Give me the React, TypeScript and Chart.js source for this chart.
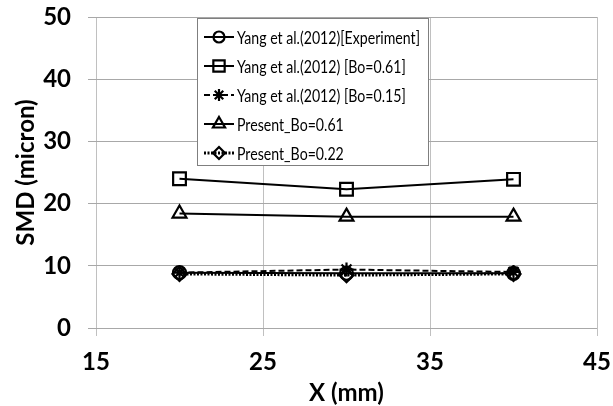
import React, { useEffect, useRef } from "react";
import { Chart, registerables } from "chart.js";
import { drawPoint } from "chart.js/helpers";

Chart.register(...registerables);

const xValues = [20, 30, 40];
const yangExperiment = [8.9, 8.8, 8.8];
const yangBo061 = [24.0, 22.3, 23.9];
const yangBo015 = [8.9, 9.4, 9.0];
const presentBo061 = [18.4, 17.9, 17.9];
const presentBo022 = [8.7, 8.5, 8.7];

const seriesLabels = [
  "Yang et al.(2012)[Experiment]",
  "Yang et al.(2012) [Bo=0.61]",
  "Yang et al.(2012) [Bo=0.15]",
  "Present_Bo=0.61",
  "Present_Bo=0.22",
];

const FONT = "Lato, 'Open Sans', 'DejaVu Sans', sans-serif";

const toPoints = (ys: number[]) => xValues.map((x, i) => ({ x, y: ys[i] }));

const legendPlugin = {
  id: "boxLegend",
  afterDraw(chart: any) {
    const ctx = chart.ctx;
    const bx = 197.5, by = 18.5, bw = 231, bh = 147;
    ctx.save();
    ctx.fillStyle = "#ffffff";
    ctx.fillRect(bx, by, bw, bh);
    ctx.strokeStyle = "#7f7f7f";
    ctx.lineWidth = 1;
    ctx.strokeRect(bx, by, bw, bh);
    ctx.font = `18px ${FONT}`;
    const widest = Math.max(...chart.data.datasets.map((d: any) => ctx.measureText(d.label).width));
    const squeeze = Math.min(1, 183 / widest);
    chart.data.datasets.forEach((ds: any, i: number) => {
      const cy = 37 + i * 29;
      ctx.save();
      ctx.strokeStyle = "#000";
      ctx.lineWidth = ds.borderWidth;
      ctx.setLineDash(ds.borderDash || []);
      ctx.beginPath();
      ctx.moveTo(204, cy);
      ctx.lineTo(234, cy);
      ctx.stroke();
      ctx.setLineDash([]);
      ctx.fillStyle = ds.pointBackgroundColor;
      ctx.strokeStyle = "#000";
      ctx.lineWidth = ds.pointBorderWidth;
      drawPoint(ctx, { pointStyle: ds.pointStyle, radius: ds.legendRadius, borderWidth: ds.pointBorderWidth, rotation: 0 }, 219, cy);
      ctx.restore();
      ctx.save();
      ctx.fillStyle = "#000";
      ctx.font = `18px ${FONT}`;
      ctx.textBaseline = "middle";
      ctx.textAlign = "left";
      ctx.translate(237, cy + 1);
      ctx.scale(squeeze, 1);
      ctx.fillText(ds.label, 0, 0);
      ctx.restore();
    });
    ctx.restore();
  },
};

export default function App() {
  const ref = useRef<HTMLCanvasElement | null>(null);
  useEffect(() => {
    document.body.style.margin = "0";
    const base = {
      borderColor: "#000",
      pointBorderColor: "#000",
      pointBackgroundColor: "rgba(0,0,0,0)",
      pointBorderWidth: 2.2,
      borderWidth: 2,
      tension: 0,
      fill: false,
    };
    const chart = new Chart(ref.current as HTMLCanvasElement, {
      type: "line",
      data: {
        datasets: [
          { ...base, label: seriesLabels[0], data: toPoints(yangExperiment), pointStyle: "circle", pointRadius: 6.5, legendRadius: 5.5 },
          { ...base, label: seriesLabels[1], data: toPoints(yangBo061), pointStyle: "rect", pointRadius: 9, legendRadius: 8 },
          { ...base, label: seriesLabels[2], data: toPoints(yangBo015), pointStyle: "star", pointRadius: 7, legendRadius: 6, borderDash: [6, 3] },
          { ...base, label: seriesLabels[3], data: toPoints(presentBo061), pointStyle: "triangle", pointRadius: 8, legendRadius: 7 },
          { ...base, label: seriesLabels[4], data: toPoints(presentBo022), pointStyle: "rectRot", pointRadius: 7, legendRadius: 6, borderWidth: 3, borderDash: [2, 1.5] },
        ] as any,
      },
      options: {
        animation: false,
        responsive: false,
        layout: { padding: { top: 17, right: 16, bottom: 0, left: 0 } },
        plugins: { legend: { display: false }, tooltip: { enabled: false } },
        scales: {
          x: {
            type: "linear",
            min: 15,
            max: 45,
            ticks: { stepSize: 10, color: "#000", padding: 12, font: { family: FONT, size: 24, weight: "bold" } },
            grid: { color: "#c0c0c0", tickLength: 8, tickColor: "#c0c0c0" },
            border: { display: false },
            title: { display: true, text: "X (mm)", color: "#000", padding: { top: 0, bottom: -2 }, font: { family: FONT, size: 24, weight: "bold" } },
            afterFit: (s: any) => { s.height = 78; s.paddingLeft = 0; s.paddingRight = 0; },
          },
          y: {
            type: "linear",
            min: 0,
            max: 50,
            ticks: { stepSize: 10, color: "#000", padding: 17, font: { family: FONT, size: 24, weight: "bold" } },
            grid: { color: "#a8a8a8", tickLength: 8, tickColor: "#a8a8a8" },
            border: { display: false },
            title: { display: true, text: "SMD (micron)", color: "#000", padding: { top: 12, bottom: 0 }, font: { family: FONT, size: 24, weight: "bold" } },
            afterFit: (s: any) => { s.width = 96; s.paddingTop = 0; s.paddingBottom = 0; },
          },
        },
      } as any,
      plugins: [legendPlugin],
    });
    return () => chart.destroy();
  }, []);
  return (
    <div style={{ position: "absolute", left: 0, top: 0, width: 613, height: 406 }}>
      <canvas ref={ref} width={613} height={406} />
    </div>
  );
}
